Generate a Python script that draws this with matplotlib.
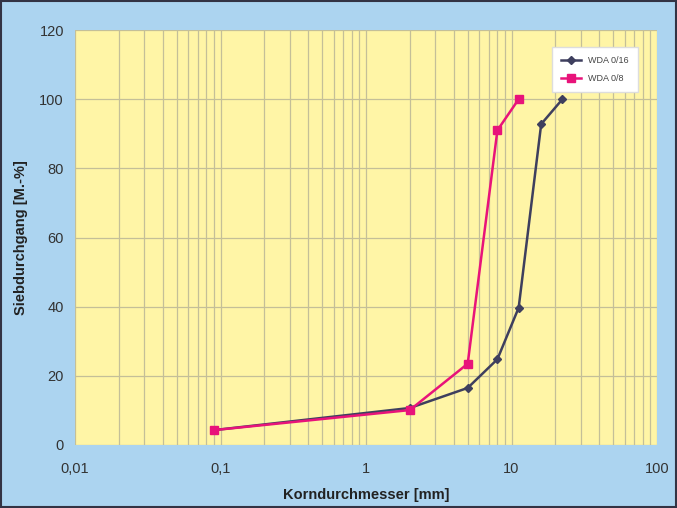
import matplotlib.pyplot as plt
import matplotlib.ticker as mticker
import numpy as np

# sieve sizes (mm) and passing (%)
sizes_16 = [0.09, 2, 5, 8, 11.2, 16, 22.4]
pass_16 = [4.3, 10.7, 16.5, 24.8, 39.7, 92.8, 100]
sizes_8 = [0.09, 2, 5, 8, 11.2]
pass_8 = [4.3, 10.1, 23.5, 91, 100]
xtick_vals = [0.01, 0.1, 1, 10, 100]
xtick_labels = ["0,01", "0,1", "1", "10", "100"]

plt.rcParams['font.family'] = ['Liberation Sans', 'DejaVu Sans']

fig = plt.figure(figsize=(6.77, 5.08), dpi=100, facecolor='#acd4f0')
ax = fig.add_axes([75 / 677, 1 - 445 / 508, 582 / 677, 415 / 508])
ax.set_facecolor('#fff5a6')

ax.plot(sizes_16, pass_16, color='#3e3f5e', lw=1.8, marker='D', ms=4, label='WDA 0/16', zorder=3)
ax.plot(sizes_8, pass_8, color='#e8137a', lw=1.8, marker='s', ms=5.5, label='WDA 0/8', zorder=4)

ax.set_xscale('log')
ax.set_xlim(0.01, 100)
ax.set_ylim(0, 120)
ax.set_xticks(xtick_vals)
ax.set_xticklabels(xtick_labels)
ax.xaxis.set_minor_locator(mticker.LogLocator(base=10, subs=np.arange(2, 10)))
ax.xaxis.set_minor_formatter(mticker.NullFormatter())
ax.set_yticks(np.arange(0, 121, 20))

ax.grid(True, which='both', axis='x', color='#c4bf98', lw=0.9)
ax.grid(True, which='major', axis='y', color='#c4bf98', lw=0.9)
ax.set_axisbelow(True)
for s in ax.spines.values():
    s.set_visible(False)
ax.tick_params(axis='both', which='both', length=0, labelsize=10.5, colors='#333333', pad=8)
ax.tick_params(axis='x', pad=12)

ax.set_xlabel('Korndurchmesser [mm]', fontweight='bold', fontsize=10.5, color='#222222', labelpad=9)
ax.set_ylabel('Siebdurchgang [M.-%]', fontweight='bold', fontsize=10.5, color='#222222', labelpad=8)

leg = ax.legend(loc='upper right', bbox_to_anchor=(0.975, 0.97), fontsize=6.5, frameon=True,
                fancybox=False, edgecolor='#dddddd', facecolor='white', framealpha=1,
                handlelength=2.2, borderpad=1.0, labelspacing=1.0)
for t in leg.get_texts():
    t.set_color('#444444')

# dark frame around figure
fig.patches.append(plt.Rectangle((0.002, 0.002), 0.996, 0.996, transform=fig.transFigure,
                                 fill=False, edgecolor='#333344', lw=1.5))

fig.savefig('out.png', dpi=100, facecolor=fig.get_facecolor())
